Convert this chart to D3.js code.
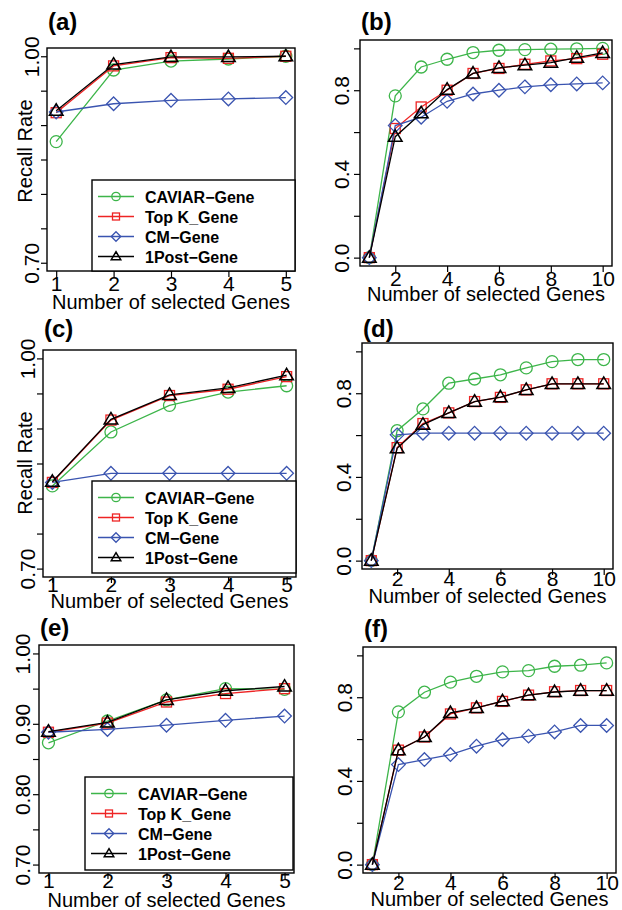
<!DOCTYPE html>
<html>
<head>
<meta charset="utf-8">
<script src="https://cdn.jsdelivr.net/npm/d3@7"></script>
<style>
  body { margin: 0; background: #fff; }
  svg { display: block; }
  text { font-family: "Liberation Sans", Arial, sans-serif; fill: #000; }
</style>
</head>
<body>
<div id="chart"></div>
<script>
// series and ticks
var seriesNames = ["CAVIAR\u2212Gene", "Top K_Gene", "CM\u2212Gene", "1Post\u2212Gene"];
var xShort = [1, 2, 3, 4, 5];
var xLong = [1, 2, 3, 4, 5, 6, 7, 8, 9, 10];
var xShortTicks = [1, 2, 3, 4, 5];
var xLongTicks = [2, 4, 6, 8, 10];
var recallTicks = [0.70, 0.75, 0.80, 0.85, 0.90, 0.95, 1.00];
var recallLabelsAC = [0.70, 1.00];
var recallLabelsE = [0.70, 0.80, 0.90, 1.00];
var fracTicks = [0, 0.2, 0.4, 0.6, 0.8, 1.0];
var fracLabels = [0, 0.4, 0.8];

// (a)
var aCaviar = [0.876, 0.980, 0.993, 0.996, 1.000];
var aTopK   = [0.918, 0.986, 0.998, 0.997, 1.000];
var aCM     = [0.919, 0.931, 0.936, 0.938, 0.940];
var aPost   = [0.921, 0.988, 0.999, 0.999, 1.000];
// (b)
var bCaviar = [0, 0.773, 0.911, 0.948, 0.980, 0.991, 0.994, 0.996, 0.998, 1.000];
var bTopK   = [0, 0.617, 0.720, 0.800, 0.880, 0.904, 0.924, 0.940, 0.951, 0.972];
var bCM     = [0, 0.631, 0.671, 0.747, 0.782, 0.800, 0.816, 0.826, 0.830, 0.835];
var bPost   = [0, 0.578, 0.690, 0.803, 0.880, 0.907, 0.920, 0.932, 0.956, 0.978];
// (c)
var cCaviar = [0.818, 0.895, 0.933, 0.952, 0.961];
var cTopK   = [0.823, 0.912, 0.947, 0.956, 0.974];
var cCM     = [0.823, 0.836, 0.836, 0.836, 0.836];
var cPost   = [0.824, 0.913, 0.948, 0.958, 0.976];
// (d)
var dCaviar = [0, 0.621, 0.725, 0.848, 0.868, 0.888, 0.921, 0.951, 0.961, 0.961];
var dTopK   = [0, 0.540, 0.655, 0.706, 0.760, 0.780, 0.816, 0.845, 0.845, 0.845];
var dCM     = [0, 0.601, 0.609, 0.609, 0.609, 0.609, 0.609, 0.609, 0.609, 0.609];
var dPost   = [0, 0.537, 0.650, 0.706, 0.760, 0.781, 0.816, 0.845, 0.845, 0.845];
// (e)
var eCaviar = [0.873, 0.904, 0.934, 0.950, 0.949];
var eTopK   = [0.888, 0.901, 0.931, 0.943, 0.950];
var eCM     = [0.888, 0.892, 0.898, 0.905, 0.911];
var ePost   = [0.889, 0.902, 0.934, 0.947, 0.953];
// (f)
var fCaviar = [0, 0.730, 0.824, 0.872, 0.900, 0.921, 0.927, 0.948, 0.953, 0.964];
var fTopK   = [0, 0.547, 0.610, 0.720, 0.749, 0.780, 0.810, 0.826, 0.832, 0.832];
var fCM     = [0, 0.478, 0.502, 0.526, 0.566, 0.598, 0.614, 0.634, 0.665, 0.665];
var fPost   = [0, 0.547, 0.610, 0.725, 0.749, 0.781, 0.810, 0.825, 0.832, 0.832];

var colors = ["#3db54a", "#ee2424", "#3a54b0", "#000000"];
var shapes = ["circle", "square", "diamond", "triangle"];

var width = 622, height = 910;
var svg = d3.select("#chart").append("svg")
    .attr("width", width)
    .attr("height", height);

// panel layout (plot box in pixels, label offsets)
var panels = [
    {tag: "(a)", box: [47, 48, 295, 271], xs: xShort, xt: xShortTicks, yd: [0.7, 1.0], yt: recallTicks, yl: recallLabelsAC, fmt: ".2f",
     data: [aCaviar, aTopK, aCM, aPost], ytitle: 151, legend: {x: 92, y: 180, w: 203, h: 91}, tagY: 30,
     tickOff: 20, titleOff: 38, ylabOff: -8},
    {tag: "(b)", box: [360, 40, 612, 266], xs: xLong, xt: xLongTicks, yd: [0, 1.0], yt: fracTicks, yl: fracLabels, fmt: ".1f",
     data: [bCaviar, bTopK, bCM, bPost], tagY: 30, tickOff: 20, titleOff: 35, ylabOff: -11},
    {tag: "(c)", box: [43, 350, 296, 577], xs: xShort, xt: xShortTicks, yd: [0.7, 1.0], yt: recallTicks, yl: recallLabelsAC, fmt: ".2f",
     data: [cCaviar, cTopK, cCM, cPost], ytitle: 463, legend: {x: 92, y: 481, w: 204, h: 92}, tagY: 337,
     tickOff: 15, titleOff: 31, ylabOff: -8},
    {tag: "(d)", box: [362, 343, 613, 569], xs: xLong, xt: xLongTicks, yd: [0, 1.0], yt: fracTicks, yl: fracLabels, fmt: ".1f",
     data: [dCaviar, dTopK, dCM, dPost], tagY: 337, tickOff: 17, titleOff: 34, ylabOff: -11},
    {tag: "(e)", box: [39, 645, 294, 873], xs: xShort, xt: xShortTicks, yd: [0.7, 1.0], yt: recallTicks, yl: recallLabelsE, fmt: ".2f",
     data: [eCaviar, eTopK, eCM, ePost], legend: {x: 85, y: 777, w: 208, h: 93}, tagY: 636,
     tickOff: 15, titleOff: 34, ylabOff: -9},
    {tag: "(f)", box: [363, 647, 616, 873], xs: xLong, xt: xLongTicks, yd: [0, 1.0], yt: fracTicks, yl: fracLabels, fmt: ".1f",
     data: [fCaviar, fTopK, fCM, fPost], tagY: 637, tickOff: 17, titleOff: 33, ylabOff: -11}
];

function marker(g, shape, cx, cy, s, color) {
    // s = size scale (1 for plot, smaller for legend)
    if (shape === "circle") {
        g.append("circle").attr("cx", cx).attr("cy", cy).attr("r", 6 * s)
            .attr("fill", "none").attr("stroke", color).attr("stroke-width", 1.3);
    } else if (shape === "square") {
        g.append("rect").attr("x", cx - 5 * s).attr("y", cy - 5 * s)
            .attr("width", 10 * s).attr("height", 10 * s)
            .attr("fill", "none").attr("stroke", color).attr("stroke-width", 1.3);
    } else if (shape === "diamond") {
        var d = 6.8 * s;
        g.append("path").attr("d", "M" + cx + "," + (cy - d) + "L" + (cx + d) + "," + cy + "L" + cx + "," + (cy + d) + "L" + (cx - d) + "," + cy + "Z")
            .attr("fill", "none").attr("stroke", color).attr("stroke-width", 1.3);
    } else {
        var w = 6.8 * s, h = 11.5 * s;
        g.append("path").attr("d", "M" + cx + "," + (cy - h * 0.6) + "L" + (cx + w) + "," + (cy + h * 0.4) + "L" + (cx - w) + "," + (cy + h * 0.4) + "Z")
            .attr("fill", "none").attr("stroke", color).attr("stroke-width", 1.5);
    }
}

panels.forEach(function (p) {
    var b = p.box;
    var xmin = d3.min(p.xs), xmax = d3.max(p.xs);
    var xpad = 0.04 * (xmax - xmin), ypad = 0.04 * (p.yd[1] - p.yd[0]);
    var x = d3.scaleLinear().domain([xmin - xpad, xmax + xpad]).range([b[0], b[2]]);
    var y = d3.scaleLinear().domain([p.yd[0] - ypad, p.yd[1] + ypad]).range([b[3], b[1]]);
    var g = svg.append("g");

    // x axis
    var xAxis = g.append("g").attr("transform", "translate(0," + b[3] + ")")
        .call(d3.axisBottom(x).tickValues(p.xt).tickSize(6).tickSizeOuter(0).tickFormat(d3.format("d")));
    xAxis.select(".domain").remove();
    xAxis.selectAll("line").attr("stroke", "#000").attr("stroke-width", 1.2);
    xAxis.selectAll("text").attr("font-size", "21px").attr("y", p.tickOff).attr("dy", 0);

    // y axis
    var yAxis = g.append("g").attr("transform", "translate(" + b[0] + ",0)")
        .call(d3.axisLeft(y).tickValues(p.yt).tickSize(6).tickSizeOuter(0)
            .tickFormat(function (v) {
                var hit = p.yl.some(function (l) { return Math.abs(l - v) < 1e-9; });
                return hit ? d3.format(p.fmt)(v) : "";
            }));
    yAxis.select(".domain").remove();
    yAxis.selectAll("line").attr("stroke", "#000").attr("stroke-width", 1.2);
    yAxis.selectAll("text")
        .attr("font-size", "21px")
        .attr("x", null).attr("dy", null)
        .attr("text-anchor", "middle")
        .attr("transform", "translate(" + p.ylabOff + ",0) rotate(-90)");

    // series
    p.data.forEach(function (vals, si) {
        var pts = vals.map(function (v, i) { return [p.xs[i], v]; });
        g.append("path")
            .datum(pts)
            .attr("fill", "none")
            .attr("stroke", colors[si])
            .attr("stroke-width", 1.3)
            .attr("d", d3.line().x(function (d) { return x(d[0]); }).y(function (d) { return y(d[1]); }));
        var mg = g.append("g");
        pts.forEach(function (d) { marker(mg, shapes[si], x(d[0]), y(d[1]), 1, colors[si]); });
    });

    // box
    g.append("rect").attr("x", b[0]).attr("y", b[1]).attr("width", b[2] - b[0]).attr("height", b[3] - b[1])
        .attr("fill", "none").attr("stroke", "#000").attr("stroke-width", 1.4);

    // legend
    if (p.legend) {
        var L = p.legend;
        var lg = g.append("g");
        lg.append("rect").attr("x", L.x).attr("y", L.y).attr("width", L.w).attr("height", L.h)
            .attr("fill", "#fff").attr("stroke", "#000").attr("stroke-width", 1.4);
        seriesNames.forEach(function (name, i) {
            var ry = L.y + 16.5 + i * 20;
            lg.append("line").attr("x1", L.x + 6).attr("x2", L.x + 42).attr("y1", ry).attr("y2", ry)
                .attr("stroke", colors[i]).attr("stroke-width", 1.3);
            marker(lg, shapes[i], L.x + 24, ry, 0.7, colors[i]);
            lg.append("text").attr("x", L.x + 53).attr("y", ry + 6)
                .attr("font-size", "16px").attr("font-weight", "bold").text(name);
        });
    }

    // titles
    g.append("text").attr("x", (b[0] + b[2]) / 2).attr("y", b[3] + p.titleOff)
        .attr("text-anchor", "middle").attr("font-size", "20px").text("Number of selected Genes");
    if (p.ytitle) {
        g.append("text").attr("transform", "translate(32," + p.ytitle + ") rotate(-90)")
            .attr("text-anchor", "middle").attr("font-size", "20px").text("Recall Rate");
    }
    g.append("text").attr("x", b[0] + 1).attr("y", p.tagY)
        .attr("font-size", "24px").attr("font-weight", "bold").text(p.tag);
});
</script>
</body>
</html>
